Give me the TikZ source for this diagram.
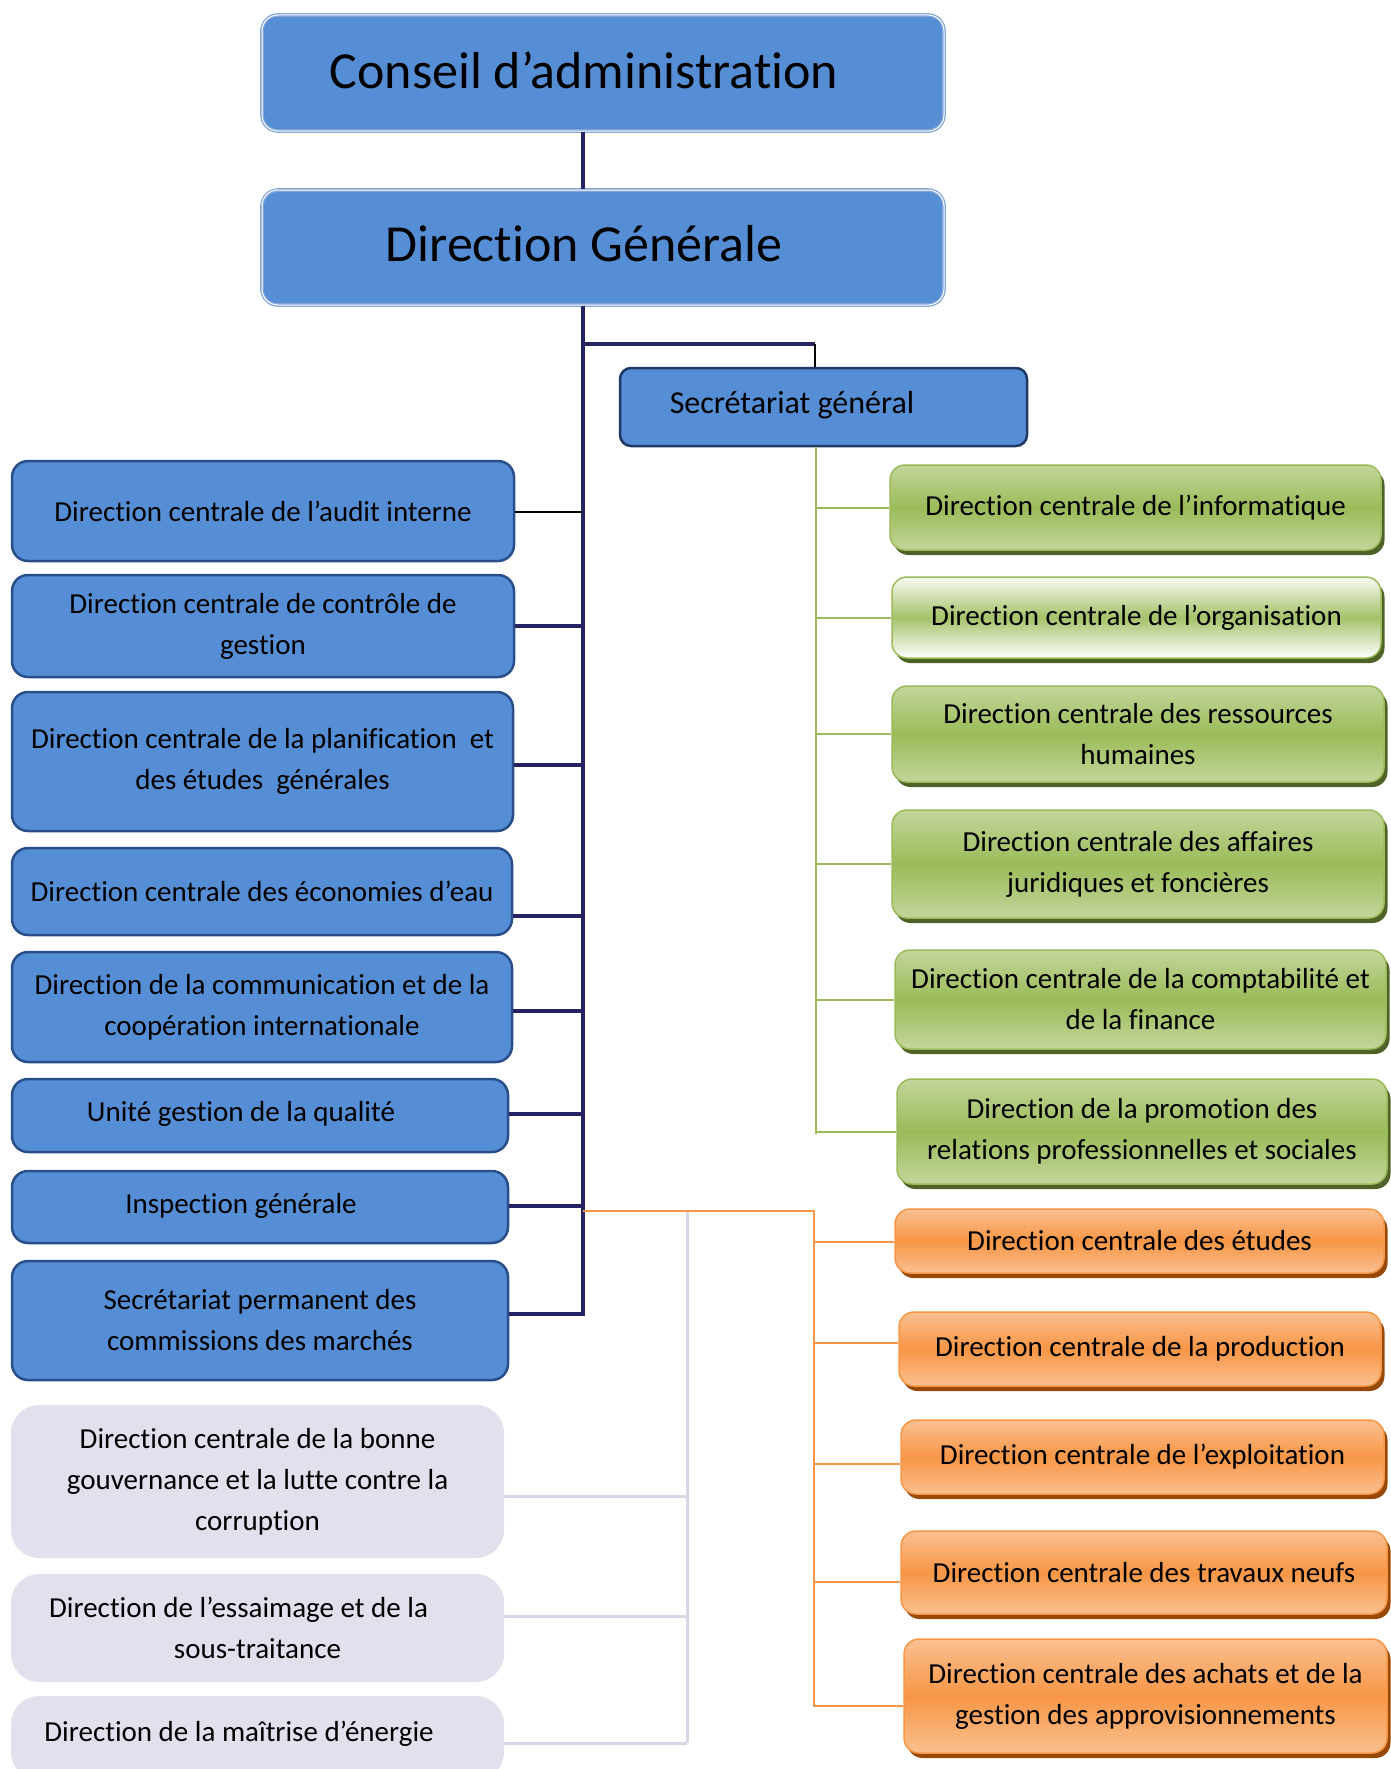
\documentclass[tikz,border=0pt]{standalone}
\usepackage{fontspec}
\setmainfont{Carlito}[Ligatures=NoCommon]
\usetikzlibrary{shadows}
\definecolor{blueF}{RGB}{85,142,213}
\definecolor{blueD}{RGB}{40,78,140}
\definecolor{blueL}{RGB}{130,165,218}
\definecolor{sgD}{RGB}{31,56,100}
\definecolor{navy}{RGB}{38,35,98}
\definecolor{greenL}{RGB}{195,214,155}
\definecolor{greenM}{RGB}{155,187,89}
\definecolor{greenS}{RGB}{79,98,40}
\definecolor{orL}{RGB}{250,192,144}
\definecolor{orM}{RGB}{247,150,70}
\definecolor{orS}{RGB}{152,72,7}
\definecolor{lavF}{RGB}{228,223,236}
\definecolor{lavL}{RGB}{218,212,230}
\begin{document}
\begin{tikzpicture}[x=1pt,y=-1pt,
  txt/.style={font=\fontsize{29}{41}\selectfont, align=center, text=black},
  topbox/.style={rectangle, rounded corners=16pt, fill=blueF, draw=blueL, line width=1.3pt, double=white, double distance=1pt},
  sgbox/.style={rectangle, rounded corners=11pt, fill=blueF, draw=sgD, line width=2.5pt},
  bbox/.style={rectangle, rounded corners=16pt, fill=blueF, draw=blueD, line width=2.5pt, txt},
  lbox/.style={rectangle, rounded corners=28pt, fill=lavF, draw=none, txt},
  gbox/.style={rectangle, rounded corners=15pt, top color=greenL, bottom color=greenL, middle color=greenM, draw=greenM, line width=1.5pt, general shadow={fill=greenS, shadow xshift=3.5pt, shadow yshift=-5pt}, txt},
  obox/.style={rectangle, rounded corners=15pt, top color=orL, bottom color=orL, middle color=orM, draw=orM, line width=1.5pt, general shadow={fill=orS, shadow xshift=3.5pt, shadow yshift=-5pt}, txt},
  trunk/.style={draw=navy, line width=3.5pt},
  thin/.style={draw=black, line width=1.8pt},
  gline/.style={draw=greenM, line width=2pt},
  oline/.style={draw=orM, line width=2pt},
  lline/.style={draw=lavL, line width=3pt}]
\useasboundingbox (0,0) rectangle (1391,1769);
\clip (0,0) rectangle (1391,1769);

% ---------- top boxes ----------
\node[topbox, minimum width=682, minimum height=116] (ca) at (603,73) {};
\node[font=\fontsize{52}{60}\selectfont] (cat) at (584,70) {Conseil d’administration};
\node[topbox, minimum width=682, minimum height=115] (dg) at (603,247.5) {};
\node[font=\fontsize{52}{60}\selectfont] (dgt) at (584,244) {Direction Générale};
\node[sgbox, minimum width=407, minimum height=78] (sg) at (823.5,407) {};
\node[font=\fontsize{32}{40}\selectfont] (sgt) at (792,405) {Secrétariat général};

% ---------- left blue boxes ----------
\node[bbox, minimum width=502, minimum height=100] (b1) at (263,511) {Direction centrale de l’audit interne};
\node[bbox, minimum width=502, minimum height=102] (b2) at (263,626) {Direction centrale de contrôle de\\gestion};
\node[bbox, minimum width=501, minimum height=139] (b3) at (262.5,761.5) {Direction centrale de la planification\ \ et\\des études\ \ générales};
\node[bbox, minimum width=500, minimum height=87] (b4) at (262,891.5) {Direction centrale des économies d’eau};
\node[bbox, minimum width=500, minimum height=110] (b5) at (262,1007) {Direction de la communication et de la\\coopération internationale};
\node[bbox, minimum width=496, minimum height=73] (b6) at (260,1115.5) {};
\node[txt] (b6t) at (241,1114) {Unité gestion de la qualité};
\node[bbox, minimum width=496, minimum height=72] (b7) at (260,1207) {};
\node[txt] (b7t) at (241,1206) {Inspection générale};
\node[bbox, minimum width=496, minimum height=119] (b8) at (260,1320.5) {Secrétariat permanent des\\commissions des marchés};

% ---------- lavender boxes ----------
\node[lbox, minimum width=493, minimum height=153] (l1) at (257.5,1481.5) {Direction centrale de la bonne\\gouvernance et la lutte contre la\\corruption};
\node[lbox, minimum width=493, minimum height=108] (l2) at (257.5,1628) {Direction de l’essaimage et de la\hspace*{38pt}\\sous-traitance};
\node[lbox, minimum width=493, minimum height=84] (l3) at (257.5,1738) {};
\node[txt] (l3t) at (239,1734) {Direction de la maîtrise d’énergie};

% ---------- green boxes ----------
\node[gbox, minimum width=491, minimum height=85] (g1) at (1135.5,507.5) {Direction centrale de l’informatique};
\node[gbox, top color=white!90!greenL, bottom color=white, middle color=greenM!90, minimum width=489, minimum height=81] (g2) at (1136.5,617.5) {Direction centrale de l’organisation};
\node[gbox, minimum width=492, minimum height=96] (g3) at (1138,734) {Direction centrale des ressources\\humaines};
\node[gbox, minimum width=492, minimum height=108] (g4) at (1138,864) {Direction centrale des affaires\\juridiques et foncières};
\node[gbox, minimum width=491, minimum height=99] (g5) at (1140.5,999.5) {Direction centrale de la comptabilité et\\de la finance};
\node[gbox, minimum width=490, minimum height=105] (g6) at (1142,1131.5) {Direction de la promotion des\\relations professionnelles et sociales};

% ---------- orange boxes ----------
\node[obox, minimum width=489, minimum height=64] (o1) at (1139.5,1241) {Direction centrale des études};
\node[obox, minimum width=482, minimum height=74] (o2) at (1140,1349) {Direction centrale de la production};
\node[obox, minimum width=483, minimum height=74] (o3) at (1142.5,1457) {Direction centrale de l’exploitation};
\node[obox, minimum width=486, minimum height=83] (o4) at (1144,1572.5) {Direction centrale des travaux neufs};
\node[obox, minimum width=483, minimum height=114] (o5) at (1145.5,1696) {Direction centrale des achats et de la\\gestion des approvisionnements};

% ---------- coordinates ----------
\coordinate (tx) at (583,0);
\coordinate (tend) at (583,1316);
\coordinate (sgk) at (815,344);
\coordinate (gx) at (816,0);
\coordinate (gend) at (816,1134);
\coordinate (oj) at (583,1211);
\coordinate (otop) at (814,1211);
\coordinate (obot) at (814,1706);
\coordinate (ltop) at (687,1211);
\coordinate (lbot) at (687,1743);
\coordinate (k1) at (583,512);
\coordinate (k2) at (583,626);
\coordinate (k3) at (583,765);
\coordinate (k4) at (583,916);
\coordinate (k5) at (583,1011);
\coordinate (k6) at (583,1114);
\coordinate (k7) at (583,1206);
\coordinate (k8) at (583,1314);
\coordinate (m1) at (687,1496);
\coordinate (m2) at (687,1616);
\coordinate (m3) at (687,1743);
\coordinate (q1) at (814,1242);
\coordinate (q2) at (814,1343);
\coordinate (q3) at (814,1464);
\coordinate (q4) at (814,1582);

% ---------- connectors ----------
\draw[trunk] (ca.south -| tx) -- (dg.north -| tx);
\draw[trunk] (dg.south -| tx) -- (tend);
\draw[trunk] (dg.south -| tx) |- (sgk);
\draw[thin] (sgk) -- (sgk |- sg.north);
\draw[thin] (k1 -| b1.east) -- (k1);
\draw[trunk] (k2 -| b2.east) -- (k2);
\draw[trunk] (k3 -| b3.east) -- (k3);
\draw[trunk] (k4 -| b4.east) -- (k4);
\draw[trunk] (k5 -| b5.east) -- (k5);
\draw[trunk] (k6 -| b6.east) -- (k6);
\draw[trunk] (k7 -| b7.east) -- (k7);
\draw[trunk] (k8 -| b8.east) -- (k8);

\draw[gline] (sg.south -| gx) -- (gend);
\foreach \g in {g1,g2,g3,g4,g5,g6}
  \draw[gline] (gx |- \g.west) -- (\g.west);

\draw[lline] (ltop) -- (lbot);
\draw[lline] (m1 -| l1.east) -- (m1);
\draw[lline] (m2 -| l2.east) -- (m2);
\draw[lline] (m3 -| l3.east) -- (m3);

\draw[oline] (oj) -- (otop) -- (obot) -- (obot -| o5.west);
\draw[oline] (q1) -- (q1 -| o1.west);
\draw[oline] (q2) -- (q2 -| o2.west);
\draw[oline] (q3) -- (q3 -| o3.west);
\draw[oline] (q4) -- (q4 -| o4.west);
\end{tikzpicture}
\end{document}
